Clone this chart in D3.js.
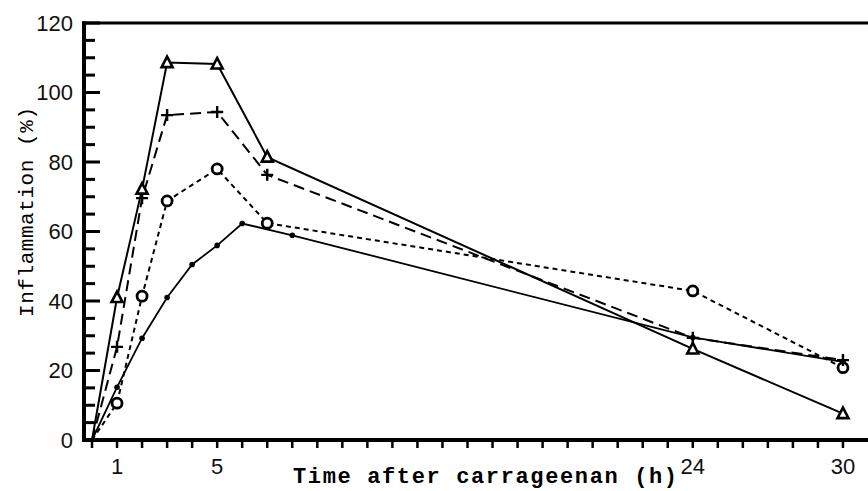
<!DOCTYPE html>
<html>
<head>
<meta charset="utf-8">
<script src="https://cdn.jsdelivr.net/npm/d3@7/dist/d3.min.js"></script>
<style>
  html, body { margin: 0; padding: 0; background: #fff; }
  svg { display: block; }
</style>
</head>
<body>
<svg id="chart" width="868" height="491"></svg>
<script>
// Time points (h) and inflammation (%) for each treatment group
const hoursMain = [0, 1, 2, 3, 5, 7, 24, 30];
const triangleValues = [0, 41, 72.2, 108.6, 108.2, 81.4, 26.2, 7.6];
const plusValues = [0, 26.8, 69.6, 93.5, 94.4, 76.3, 29.4, 23];
const circleValues = [0, 10.6, 41.4, 68.8, 78, 62.4, 42.9, 20.8];

const hoursDot = [0, 1, 2, 3, 4, 5, 6, 8, 24, 30];
const dotValues = [0, 15.2, 29.3, 41, 50.5, 56, 62.3, 58.9, 29.5, 22.5];

const xTickLabels = [1, 5, 24, 30];
const yTickLabels = [0, 20, 40, 60, 80, 100, 120];

const svg = d3.select("#chart");

const x = d3.scaleLinear().domain([-0.36, 31]).range([83, 868]);
const y = d3.scaleLinear().domain([0, 120]).range([440, 23]);

const axisLeft = 82;   // left edge of the y axis bar
const axisW = 4;

// Y ticks: minor every 5, major every 20, pointing into the plot
const yMinor = d3.range(0, 121, 5).filter(v => v % 20 !== 0);
svg.append("g").selectAll("rect")
  .data(yMinor)
  .join("rect")
  .attr("x", axisLeft).attr("width", axisW + 9)
  .attr("y", d => y(d) - 1.5).attr("height", 3)
  .attr("fill", "#000");
svg.append("g").selectAll("rect")
  .data(yTickLabels)
  .join("rect")
  .attr("x", axisLeft).attr("width", axisW + 14)
  .attr("y", d => y(d) - 1.5).attr("height", 3)
  .attr("fill", "#000");

// X ticks: one per hour, pointing down
svg.append("g").selectAll("rect")
  .data(d3.range(0, 31, 1))
  .join("rect")
  .attr("x", d => x(d) - 1.25).attr("width", 2.5)
  .attr("y", y(0)).attr("height", 8)
  .attr("fill", "#000");

// Frame: top rule, y axis bar, x axis bar
svg.append("rect")
  .attr("x", axisLeft).attr("width", 868 - axisLeft)
  .attr("y", y(120) - 1.5).attr("height", 3)
  .attr("fill", "#000");
svg.append("rect")
  .attr("x", axisLeft).attr("width", axisW)
  .attr("y", y(120) - 1.5).attr("height", y(0) - y(120) + 3.5)
  .attr("fill", "#000");
svg.append("rect")
  .attr("x", axisLeft).attr("width", 868 - axisLeft)
  .attr("y", y(0) - 2).attr("height", 4)
  .attr("fill", "#000");

// Y tick labels
svg.append("g").selectAll("text")
  .data(yTickLabels)
  .join("text")
  .attr("x", 73)
  .attr("y", d => y(d))
  .attr("dy", "0.36em")
  .attr("text-anchor", "end")
  .attr("font-family", "Liberation Sans, Arial, sans-serif")
  .attr("font-size", 22)
  .attr("fill", "#111")
  .text(d => d);

// X tick labels
svg.append("g").selectAll("text")
  .data(xTickLabels)
  .join("text")
  .attr("x", d => x(d))
  .attr("y", 466)
  .attr("dy", "0.36em")
  .attr("text-anchor", "middle")
  .attr("font-family", "Liberation Sans, Arial, sans-serif")
  .attr("font-size", 22)
  .attr("fill", "#111")
  .text(d => d);

// Axis titles
svg.append("text")
  .attr("x", 485).attr("y", 483)
  .attr("text-anchor", "middle")
  .attr("font-family", "Liberation Mono, Courier New, monospace")
  .attr("font-weight", "bold")
  .attr("font-size", 22)
  .attr("textLength", 384)
  .attr("lengthAdjust", "spacing")
  .attr("fill", "#000")
  .text("Time after carrageenan (h)");

svg.append("text")
  .attr("transform", "translate(33,212) rotate(-90)")
  .attr("text-anchor", "middle")
  .attr("font-family", "Liberation Mono, Courier New, monospace")
  .attr("font-size", 21)
  .attr("textLength", 210)
  .attr("lengthAdjust", "spacing")
  .attr("fill", "#000")
  .text("Inflammation (%)");

// Series lines
const line = d3.line().x(d => x(d[0])).y(d => y(d[1]));
const zip = (xs, ys) => xs.map((h, i) => [h, ys[i]]);

const series = [
  { pts: zip(hoursDot, dotValues), dash: null, width: 1.8 },
  { pts: zip(hoursMain, circleValues), dash: "5,4", width: 2 },
  { pts: zip(hoursMain, plusValues), dash: "11,6", width: 2 },
  { pts: zip(hoursMain, triangleValues), dash: null, width: 2 }
];

series.forEach(s => {
  svg.append("path")
    .datum(s.pts)
    .attr("d", line)
    .attr("fill", "none")
    .attr("stroke", "#000")
    .attr("stroke-width", s.width)
    .attr("stroke-dasharray", s.dash);
});

// Markers (the origin point carries none)
const marks = svg.append("g");

marks.selectAll(".dot")
  .data(zip(hoursDot, dotValues).slice(1))
  .join("circle")
  .attr("class", "dot")
  .attr("cx", d => x(d[0])).attr("cy", d => y(d[1]))
  .attr("r", 2.8).attr("fill", "#000");

marks.selectAll(".ring")
  .data(zip(hoursMain, circleValues).slice(1))
  .join("circle")
  .attr("class", "ring")
  .attr("cx", d => x(d[0])).attr("cy", d => y(d[1]))
  .attr("r", 5).attr("fill", "#fff")
  .attr("stroke", "#000").attr("stroke-width", 2.8);

marks.selectAll(".plus")
  .data(zip(hoursMain, plusValues).slice(1))
  .join("path")
  .attr("class", "plus")
  .attr("d", d => {
    const cx = x(d[0]), cy = y(d[1]);
    return `M${cx - 6},${cy}H${cx + 6}M${cx},${cy - 6}V${cy + 6}`;
  })
  .attr("stroke", "#000").attr("stroke-width", 2.4);

marks.selectAll(".tri")
  .data(zip(hoursMain, triangleValues).slice(1))
  .join("path")
  .attr("class", "tri")
  .attr("d", d => {
    const cx = x(d[0]), cy = y(d[1]);
    return `M${cx},${cy - 6}L${cx + 5.5},${cy + 4.5}L${cx - 5.5},${cy + 4.5}Z`;
  })
  .attr("fill", "#fff")
  .attr("stroke", "#000").attr("stroke-width", 2.6)
  .attr("stroke-linejoin", "miter");
</script>
</body>
</html>
